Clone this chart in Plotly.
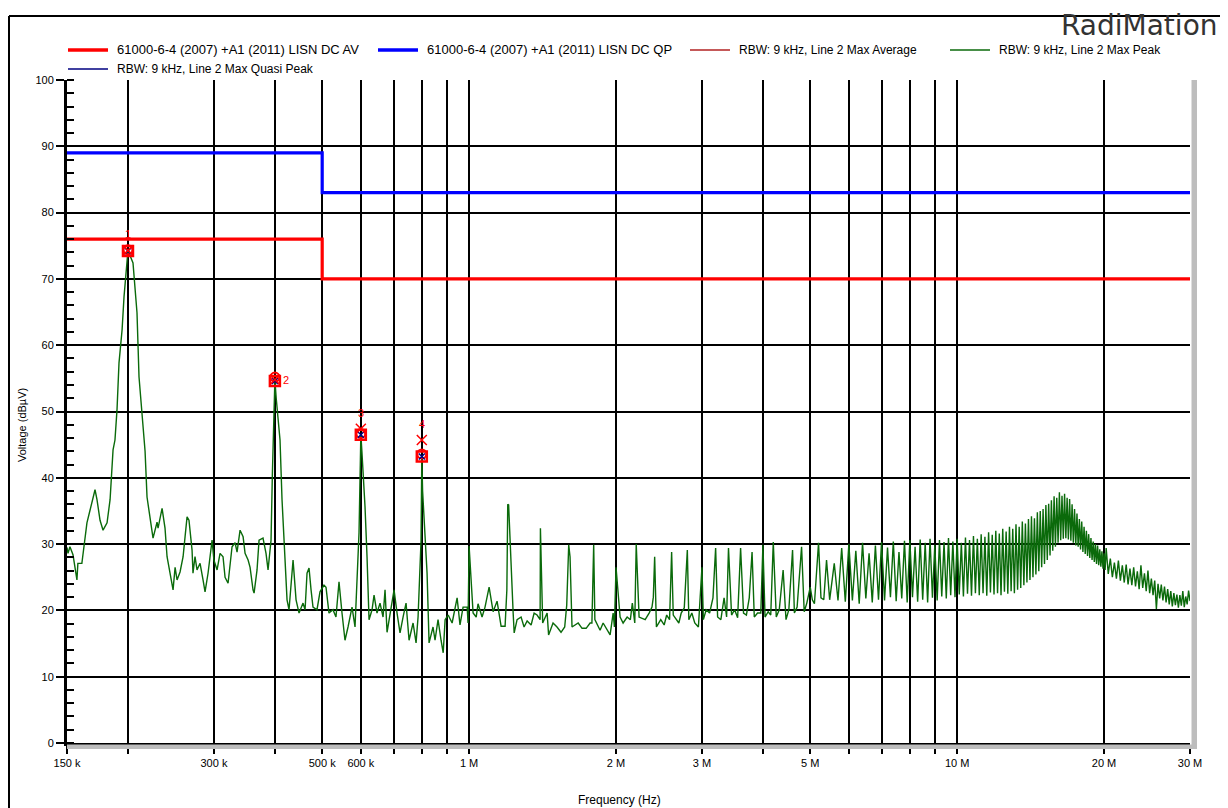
import math
import numpy as np
import plotly.graph_objects as go

# ---------------- data (frequencies in MHz, levels in dBuV) ----------------
low_f = [0.150, 0.1507, 0.1521, 0.1543, 0.1572, 0.1579, 0.1609, 0.1648, 0.1672, 0.1696,
         0.1712, 0.1728, 0.1753, 0.1778, 0.1812, 0.1838, 0.1855, 0.1864, 0.1881, 0.1899,
         0.1917, 0.1945, 0.1963, 0.1991, 0.2000, 0.2048, 0.2087, 0.2107, 0.2147, 0.2168,
         0.2188, 0.2219, 0.2251, 0.2294, 0.2305, 0.2349, 0.2382, 0.2405, 0.2439, 0.2474,
         0.2498, 0.2521, 0.2557, 0.2594, 0.2618, 0.2643, 0.2667, 0.2706, 0.2718, 0.2744,
         0.2770, 0.2810, 0.2850, 0.2877, 0.2918, 0.2974, 0.3000, 0.3045, 0.3088, 0.3132,
         0.3162, 0.3207, 0.3268, 0.3315, 0.3346, 0.3394, 0.3443, 0.3475, 0.3525, 0.3558,
         0.3608, 0.3626, 0.3677, 0.3712, 0.3782, 0.3836, 0.3873, 0.3928, 0.3953, 0.3971,
         0.3985, 0.4000, 0.4025, 0.4098, 0.4137, 0.4196, 0.4236, 0.4276, 0.4337, 0.4358,
         0.4420, 0.4483, 0.4568, 0.4612, 0.4655, 0.4699, 0.4744, 0.4788, 0.4879, 0.4949,
         0.5043, 0.5091, 0.5163, 0.5261, 0.5336, 0.5413, 0.5490, 0.5568, 0.5648, 0.5756,
         0.5838, 0.5893, 0.5949, 0.5985, 0.6000, 0.6030, 0.6120, 0.6178, 0.6237, 0.6326,
         0.6386, 0.6476, 0.6569, 0.6663, 0.6726, 0.6790, 0.6886, 0.7018, 0.7118, 0.7219,
         0.7323, 0.7427, 0.7533, 0.7677, 0.7786, 0.7860, 0.7972, 0.8000, 0.8030, 0.8201,
         0.8279, 0.8435, 0.8515, 0.8637, 0.8760, 0.8850, 0.8930, 0.9060, 0.9230, 0.9320,
         0.9450, 0.9580, 0.9720, 0.9910, 0.9950]
low_v = [29.5, 28.6, 29.6, 28.4, 24.6, 27.1, 27.1, 33.2, 35.1, 37.1,
         38.2, 36.7, 33.6, 32.1, 33.2, 36.7, 40.7, 44.2, 45.7, 50.2,
         57.3, 62.3, 67.3, 72.9, 74.3, 72.4, 64.9, 55.2, 47.0, 44.0,
         37.1, 34.1, 30.9, 33.3, 32.4, 35.4, 32.4, 28.1, 25.6, 23.1,
         26.5, 24.6, 25.8, 28.1, 31.1, 34.1, 33.6, 29.1, 25.6, 28.1,
         26.1, 27.1, 24.6, 22.8, 25.6, 30.6, 27.6, 26.1, 28.6, 28.1,
         25.0, 24.1, 29.6, 30.2, 28.8, 32.1, 31.1, 28.6, 27.6, 26.5,
         23.1, 22.6, 26.1, 30.6, 30.9, 28.6, 26.1, 30.6, 40.7, 45.7,
         52.0, 54.8, 52.0, 45.7, 36.7, 28.1, 21.6, 20.1, 25.6, 27.6,
         21.6, 19.6, 21.1, 20.1, 25.6, 26.4, 23.1, 20.5, 20.1, 22.8,
         23.8, 23.5, 19.6, 20.1, 19.0, 24.3, 19.6, 15.5, 17.5, 20.5,
         17.5, 23.5, 31.7, 42.0, 46.6, 44.0, 35.6, 28.1, 18.6, 20.1,
         22.3, 19.6, 21.1, 19.0, 23.1, 16.7, 19.6, 23.1, 19.6, 16.6,
         19.0, 21.1, 15.5, 18.1, 15.1, 19.0, 30.6, 43.2, 38.0, 25.6,
         15.1, 17.5, 15.5, 18.6, 15.5, 13.6, 18.6, 19.3, 18.1, 19.6,
         21.9, 17.8, 20.5, 20.5, 18.1]

mid_f = [1.000, 1.019, 1.034, 1.043, 1.063, 1.078, 1.099, 1.120, 1.141, 1.163,
         1.185, 1.195, 1.200, 1.205, 1.231, 1.237, 1.254, 1.278, 1.296, 1.315,
         1.340, 1.359, 1.378, 1.398, 1.400, 1.415, 1.445, 1.455, 1.486, 1.514,
         1.543, 1.570, 1.585, 1.600, 1.610, 1.625, 1.673, 1.704, 1.737, 1.770,
         1.785, 1.800, 1.810, 1.855, 1.882, 1.918, 1.945, 1.973, 1.985, 2.000,
         2.039, 2.068, 2.108, 2.140, 2.160, 2.185, 2.200, 2.230, 2.295, 2.338,
         2.370, 2.385, 2.400, 2.420, 2.470, 2.510, 2.540, 2.575, 2.600, 2.620,
         2.690, 2.720, 2.760, 2.800, 2.820, 2.860, 2.900, 2.950, 3.000, 3.020,
         3.060, 3.110, 3.160, 3.200, 3.230, 3.280, 3.330, 3.370, 3.400, 3.450,
         3.500, 3.550, 3.600, 3.650, 3.700, 3.750, 3.800, 3.840, 3.900, 3.960,
         4.000, 4.040, 4.100, 4.150, 4.200, 4.260, 4.320, 4.400, 4.460, 4.520,
         4.600, 4.640, 4.700, 4.800, 4.860, 4.920, 5.000, 5.050, 5.100, 5.200,
         5.260, 5.330, 5.400, 5.480, 5.600, 5.700]
mid_v = [29.7, 19.6, 19.0, 21.0, 19.0, 20.5, 23.5, 19.8, 21.4, 17.6,
         17.6, 23.1, 36.0, 35.9, 19.6, 16.6, 18.6, 19.0, 17.5, 18.4,
         17.8, 19.6, 19.3, 18.6, 32.4, 18.1, 19.6, 16.3, 18.1, 17.5,
         16.7, 17.5, 20.8, 29.9, 28.1, 17.5, 18.1, 17.3, 17.3, 18.1,
         18.1, 29.9, 18.6, 17.0, 18.1, 17.0, 16.3, 19.6, 17.5, 26.5,
         19.0, 18.1, 19.0, 18.6, 21.1, 18.1, 30.0, 19.0, 18.6, 19.6,
         20.5, 22.0, 28.1, 17.5, 18.6, 17.8, 19.3, 18.6, 28.8, 19.3,
         18.1, 19.6, 20.4, 29.1, 18.6, 19.6, 18.1, 17.5, 26.5, 18.6,
         20.1, 19.6, 21.9, 29.4, 19.0, 18.6, 21.9, 19.0, 29.4, 19.3,
         20.1, 18.9, 29.4, 19.6, 19.3, 21.9, 28.8, 19.0, 19.6, 19.6,
         29.9, 19.0, 19.8, 19.3, 30.3, 19.0, 20.1, 26.1, 18.6, 20.1,
         29.1, 19.6, 20.5, 29.6, 19.8, 21.1, 23.5, 21.6, 21.0, 30.2,
         21.9, 21.6, 27.6, 21.6, 27.1, 21.5]

comb_f = [5.8, 5.9, 6.0, 6.1, 6.2, 6.3, 6.4, 6.5, 6.6, 6.7, 6.8, 6.9,
          7.0, 7.1, 7.2, 7.3, 7.4, 7.5, 7.6, 7.7, 7.8, 7.9,
          8.0, 8.1, 8.2, 8.3, 8.4, 8.5, 8.6, 8.7, 8.8, 8.9,
          9.0, 9.1, 9.2, 9.3, 9.4, 9.5, 9.6, 9.7, 9.8, 9.9,
          10.0, 10.1, 10.2, 10.3, 10.4, 10.5, 10.6, 10.7, 10.8, 10.9,
          11.0, 11.1, 11.2, 11.3, 11.4, 11.5, 11.6, 11.7, 11.8, 11.9,
          12.0, 12.1, 12.2, 12.3, 12.4, 12.5, 12.6, 12.7, 12.8, 12.9,
          13.0, 13.1, 13.2, 13.3, 13.4, 13.5, 13.6, 13.7, 13.8, 13.9,
          14.0, 14.1, 14.2, 14.3, 14.4, 14.5, 14.6, 14.7, 14.8, 14.9,
          15.0, 15.1, 15.2, 15.3, 15.4, 15.5, 15.6, 15.7, 15.8, 15.9,
          16.0, 16.1, 16.2, 16.3, 16.4, 16.5, 16.6, 16.7, 16.8, 16.9,
          17.0, 17.1, 17.2, 17.3, 17.4, 17.5, 17.6, 17.7, 17.8, 17.9,
          18.0, 18.1, 18.2, 18.3, 18.4, 18.5, 18.6, 18.7, 18.8, 18.9,
          19.0, 19.1, 19.2, 19.3, 19.4, 19.5, 19.6, 19.7, 19.8, 19.9,
          20.0, 20.1]
comb_v = [29.4, 21.3, 30.0, 21.5, 29.0, 21.0, 30.2, 21.8, 28.6, 21.2, 29.8, 21.6,
          30.3, 21.5, 29.5, 22.0, 30.4, 21.4, 28.8, 21.8, 30.5, 21.2,
          30.6, 22.0, 29.6, 21.3, 30.7, 21.6, 30.2, 21.2, 30.8, 21.9,
          29.9, 21.5, 30.6, 22.1, 30.3, 21.8, 30.9, 22.3, 30.4, 22.0,
          30.8, 22.4, 30.2, 22.1, 31.0, 22.5, 30.6, 22.2, 31.2, 22.6,
          30.8, 22.3, 31.5, 22.6, 31.1, 22.2, 31.8, 22.7, 31.4, 22.4,
          32.0, 22.6, 31.6, 22.3, 32.3, 22.8, 31.9, 22.5, 32.6, 22.9,
          32.3, 22.6, 33.0, 23.1, 32.6, 23.4, 33.4, 23.8, 33.1, 24.2,
          33.8, 24.6, 34.2, 25.0, 33.9, 25.4, 34.8, 25.9, 35.0, 26.5,
          35.3, 27.0, 35.9, 27.6, 36.1, 28.3, 36.6, 29.0, 37.2, 29.6,
          37.0, 30.2, 37.8, 30.6, 37.3, 30.8, 37.6, 30.9, 37.0, 30.7,
          36.8, 30.5, 36.0, 30.2, 35.3, 29.8, 34.6, 29.6, 33.8, 29.2,
          33.4, 28.8, 32.6, 28.5, 32.0, 28.2, 31.5, 27.9, 30.9, 27.6,
          30.4, 27.3, 30.0, 27.0, 29.8, 26.8, 29.2, 26.6, 28.9, 26.3,
          28.6, 26.1]

tail_f = [20.2, 20.4, 20.6, 20.8, 21.0, 21.2, 21.4, 21.6, 21.8, 22.0,
          22.2, 22.4, 22.6, 22.8, 23.0, 23.2, 23.4, 23.6, 23.8, 24.0,
          24.2, 24.4, 24.6, 24.8, 25.0, 25.2, 25.4, 25.6, 25.8, 26.0,
          26.2, 26.4, 26.6, 26.8, 27.0, 27.2, 27.4, 27.6, 27.8, 28.0,
          28.2, 28.4, 28.6, 28.8, 29.0, 29.2, 29.4, 29.6, 29.8, 30.0]
tail_v = [29.4, 25.5, 27.8, 25.0, 27.2, 24.8, 27.5, 24.5, 26.8, 24.2,
          26.9, 23.9, 26.3, 23.8, 26.5, 23.6, 25.9, 23.2, 26.8, 23.4,
          25.6, 22.9, 26.0, 22.6, 24.8, 22.3, 24.5, 20.2, 24.0, 21.8,
          23.9, 21.5, 23.6, 21.2, 23.2, 20.9, 22.9, 20.6, 22.6, 20.8,
          22.4, 20.4, 22.3, 20.7, 22.9, 20.5, 22.1, 20.9, 23.0, 21.4]

# limit lines
limit_f = [0.15, 0.5, 30.0]
limit_av = [76, 70, 70]
limit_qp = [89, 83, 83]

# final measurement markers
meas_f = [0.2, 0.4, 0.6, 0.8]
meas_pk = [74.3, 54.8, 47.4, 45.7]
meas_qp = [74.4, 55.2, 46.7, 43.6]
meas_av = [74.2, 54.6, 46.5, 43.2]
meas_labels = ["1", "2", "3", "4"]

x_tick_vals = [0.15, 0.2, 0.3, 0.4, 0.5, 0.6, 0.7, 0.8, 0.9, 1, 2, 3, 4, 5, 6, 7, 8, 9, 10, 20, 30]
x_tick_text = ["150 k", "", "300 k", "", "500 k", "600 k", "", "", "", "1 M", "2 M", "3 M", "",
               "5 M", "", "", "", "", "10 M", "20 M", "30 M"]

legend_names = ["61000-6-4 (2007) +A1 (2011) LISN DC AV",
                "61000-6-4 (2007) +A1 (2011) LISN DC QP",
                "RBW: 9 kHz, Line 2 Max Average",
                "RBW: 9 kHz, Line 2 Max Peak",
                "RBW: 9 kHz, Line 2 Max Quasi Peak"]

# ---------------- figure ----------------
FONT = "Liberation Sans, Arial, sans-serif"
OFF = 8                      # page offset of the figure div (body margin)
W, H = 1228 - OFF, 808 - OFF
L, R, T, B = 67 - OFF, 38, 80 - OFF, 65
PW, PH = W - L - R, H - T - B


def px(xp):
    """page pixel x -> paper fraction"""
    return (xp - OFF - L) / PW


def py(yp):
    """page pixel y -> paper fraction"""
    return (H - B - (yp - OFF)) / PH


green_f = low_f + mid_f + comb_f + tail_f
green_v = low_v + mid_v + comb_v + tail_v

fig = go.Figure()
fig.add_trace(go.Scatter(x=green_f, y=green_v, mode="lines", name=legend_names[3],
                         line=dict(color="#0a6a0a", width=1.4), showlegend=False))
fig.add_trace(go.Scatter(x=limit_f, y=limit_av, mode="lines", line_shape="hv", name=legend_names[0],
                         line=dict(color="#ff0000", width=3.2), showlegend=False))
fig.add_trace(go.Scatter(x=limit_f, y=limit_qp, mode="lines", line_shape="hv", name=legend_names[1],
                         line=dict(color="#0000ff", width=3.2), showlegend=False))
# measurement markers
fig.add_trace(go.Scatter(x=meas_f, y=meas_av, mode="markers", name=legend_names[2], showlegend=False,
                         marker=dict(symbol="square-open", size=10, color="#ff0000", line=dict(width=2.5))))
fig.add_trace(go.Scatter(x=meas_f, y=meas_qp, mode="markers", name=legend_names[4], showlegend=False,
                         marker=dict(symbol="circle-open", size=9, color="#ff0000", line=dict(width=2))))
fig.add_trace(go.Scatter(x=meas_f, y=meas_av, mode="markers", showlegend=False,
                         marker=dict(symbol="x-thin-open", size=6, color="#000080", line=dict(width=1.5))))
fig.add_trace(go.Scatter(x=meas_f, y=meas_pk, mode="markers", showlegend=False,
                         marker=dict(symbol="x-thin-open", size=10, color="#ff0000", line=dict(width=1.5))))

# measurement labels
lab_dx = [0, 11, 0, 0]
lab_dy = [-16, 0, -16, -16]
for f, v, t, dx, dy in zip(meas_f, meas_pk, meas_labels, lab_dx, lab_dy):
    fig.add_annotation(x=math.log10(f), y=v, text=t, showarrow=False, xshift=dx, yshift=-dy,
                       font=dict(family=FONT, size=11, color="#ff0000"))

# manual legend
leg_items = [(68, 50, "#ff0000", 3.5, 13, legend_names[0]),
             (378, 50, "#0000ff", 3.5, 13, legend_names[1]),
             (690, 50, "#b22222", 1.5, 12, legend_names[2]),
             (950, 50, "#0a6a0a", 1.5, 12, legend_names[3]),
             (68, 69, "#000080", 1.5, 12, legend_names[4])]
shapes = []
for x0, yy, col, wd, fs, name in leg_items:
    shapes.append(dict(type="line", xref="paper", yref="paper", x0=px(x0), x1=px(x0 + 40),
                       y0=py(yy), y1=py(yy), line=dict(color=col, width=wd)))
    fig.add_annotation(xref="paper", yref="paper", x=px(x0 + 47), y=py(yy), text=name,
                       showarrow=False, xanchor="left", yanchor="middle",
                       font=dict(family=FONT, size=fs, color="#000"))

# frame & hatched bands
shapes.append(dict(type="line", xref="paper", yref="paper", x0=px(9), x1=px(1228), y0=py(16), y1=py(16),
                   line=dict(color="#000", width=2)))
shapes.append(dict(type="line", xref="paper", yref="paper", x0=px(9), x1=px(9), y0=py(16), y1=py(808),
                   line=dict(color="#000", width=2)))
shapes.append(dict(type="rect", xref="paper", yref="paper", x0=px(67), x1=px(1197), y0=py(744.5), y1=py(749),
                   fillcolor="#bdbdbd", line=dict(width=0), layer="above"))
shapes.append(dict(type="rect", xref="paper", yref="paper", x0=px(1191.5), x1=px(1197), y0=py(80), y1=py(749),
                   fillcolor="#bdbdbd", line=dict(width=0), layer="above"))

# logo (box top kept at the figure's top edge)
fig.add_annotation(xref="paper", yref="paper", x=px(1219), y=py(OFF), text="RadiMation", showarrow=False,
                   xanchor="right", yanchor="top", borderpad=0,
                   font=dict(family="DejaVu Sans, sans-serif", size=28, color="#333333"))

# axis titles
fig.add_annotation(xref="paper", yref="paper", x=px(619), y=py(800), text="Frequency (Hz)", showarrow=False,
                   xanchor="center", yanchor="middle", font=dict(family=FONT, size=12, color="#000"))
fig.add_annotation(xref="paper", yref="paper", x=px(22), y=py(425), text="Voltage (dBµV)", showarrow=False,
                   textangle=-90, xanchor="center", yanchor="middle",
                   font=dict(family=FONT, size=11, color="#000"))

fig.update_layout(
    width=W, height=H, margin=dict(l=L, r=R, t=T, b=B, autoexpand=False),
    paper_bgcolor="white", plot_bgcolor="white",
    font=dict(family=FONT, size=11, color="#000"),
    shapes=shapes, showlegend=False,
)
fig.update_xaxes(type="log", range=[math.log10(0.15), math.log10(30)],
                 tickvals=x_tick_vals, ticktext=x_tick_text, automargin=False,
                 showgrid=True, gridcolor="#000", gridwidth=1.5,
                 ticks="outside", ticklen=8, tickwidth=1.5, tickcolor="#000",
                 showline=True, linecolor="#000", linewidth=3, mirror=False,
                 tickfont=dict(family=FONT, size=11, color="#000"),
                 zeroline=False)
fig.update_yaxes(range=[0, 100], tickvals=list(range(0, 101, 10)), automargin=False,
                 showgrid=True, gridcolor="#000", gridwidth=1.5,
                 ticks="outside", ticklen=8, tickwidth=1.5, tickcolor="#000",
                 minor=dict(dtick=2, ticks="inside", ticklen=7, tickwidth=1.5, tickcolor="#000", showgrid=False),
                 showline=True, linecolor="#000", linewidth=3,
                 tickfont=dict(family=FONT, size=11, color="#000"),
                 zeroline=False)

fig.write_html("out.html")
